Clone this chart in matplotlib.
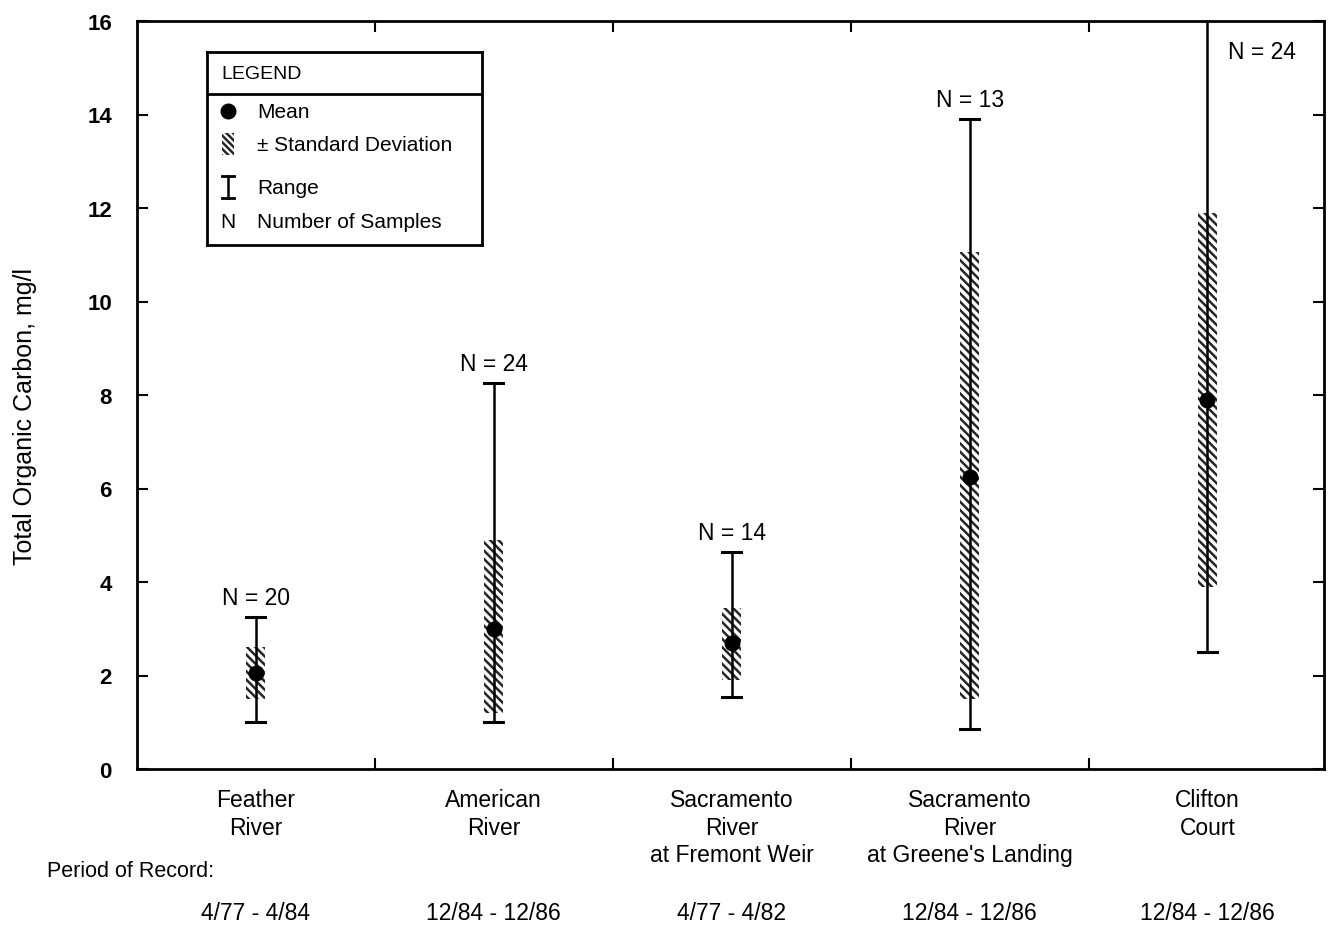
"""Total organic carbon summary by sampling station (mean, +/- SD, range)."""

import matplotlib.pyplot as plt
from matplotlib.patches import Rectangle

plt.rcParams["font.family"] = ["Liberation Sans", "DejaVu Sans"]
plt.rcParams["hatch.linewidth"] = 1.8

stations = [
    "Feather\nRiver",
    "American\nRiver",
    "Sacramento\nRiver\nat Fremont Weir",
    "Sacramento\nRiver\nat Greene's Landing",
    "Clifton\nCourt",
]
periods = ["4/77 - 4/84", "12/84 - 12/86", "4/77 - 4/82", "12/84 - 12/86", "12/84 - 12/86"]
n_samples = [20, 24, 14, 13, 24]
means = [2.05, 3.0, 2.7, 6.25, 7.9]
sd_low = [1.5, 1.2, 1.9, 1.5, 3.9]
sd_high = [2.6, 4.9, 3.45, 11.05, 11.9]
range_min = [1.0, 1.0, 1.55, 0.85, 2.5]
range_max = [3.25, 8.25, 4.65, 13.9, 16.0]

fig = plt.figure(figsize=(13.29, 9.29), dpi=100)
ax = fig.add_axes([137 / 1329, 1 - 770 / 929, 1187 / 1329, 748 / 929])

box_w = 0.08
for i in range(len(stations)):
    ax.add_patch(Rectangle((i - box_w / 2, sd_low[i]), box_w, sd_high[i] - sd_low[i],
                           facecolor="white", edgecolor="#262626", hatch="\\\\\\\\",
                           linewidth=0, zorder=2))
    ax.plot([i, i], [range_min[i], range_max[i]], color="black", lw=1.8, zorder=3)
    cap = [i - 0.04, i + 0.04]
    ax.plot(cap, [range_min[i]] * 2, color="black", lw=2.2, zorder=3)
    if range_max[i] < 16:
        ax.plot(cap, [range_max[i]] * 2, color="black", lw=2.2, zorder=3)
    ax.plot(i, means[i], "o", color="black", ms=10.5, zorder=4)
    if range_max[i] < 16:
        ax.text(i, range_max[i] + 0.17, f"N = {n_samples[i]}", ha="center", va="bottom",
                fontsize=16.5)
    else:
        # range runs off the top, so the count sits beside the line
        ax.text(i + 0.23, 15.35, f"N = {n_samples[i]}", ha="center", va="center",
                fontsize=16.5)

ax.set_xlim(-0.5, 4.49)
ax.set_ylim(0, 16)
ax.set_yticks(range(0, 17, 2))
ax.set_yticklabels([str(v) for v in range(0, 17, 2)], fontsize=16, fontweight="bold")
ax.set_xticks([0.5, 1.5, 2.5, 3.5])
ax.set_xticklabels([])
ax.tick_params(direction="in", length=8, width=1.5, top=True, right=True)
ax.tick_params(axis="y", pad=18)
for s in ax.spines.values():
    s.set_linewidth(2)
ax.set_ylabel("Total Organic Carbon, mg/l", fontsize=18)
ax.yaxis.set_label_coords(-0.0842, 0.472)

for i, name in enumerate(stations):
    ax.annotate(name, (i, 0), xytext=(0, -14), textcoords="offset points",
                ha="center", va="top", fontsize=16.5, linespacing=1.25)
    ax.annotate(periods[i], (i, 0), xytext=(0, -103), textcoords="offset points",
                ha="center", va="center", fontsize=16.5)
fig.text(47 / 1329, 1 - 872 / 929, "Period of Record:", fontsize=15.5, va="center")

# legend panel, drawn in pixel-like coordinates
lg = fig.add_axes([207 / 1329, 1 - 246 / 929, 275 / 1329, 193 / 929])
lg.set_xlim(0, 275)
lg.set_ylim(193, 0)
lg.set_xticks([])
lg.set_yticks([])
for s in lg.spines.values():
    s.set_linewidth(2)
lg.axhline(42, color="black", lw=2)
lg.text(14, 21, "LEGEND", fontsize=14, va="center")
lg.plot(21, 59, "o", color="black", ms=10.5)
lg.add_patch(Rectangle((15, 81), 12, 22, facecolor="white", edgecolor="#262626",
                       hatch="\\\\\\\\\\", linewidth=0))
lg.plot([21, 21], [124, 146], color="black", lw=1.8)
lg.plot([15, 27], [124, 124], color="black", lw=2)
lg.plot([15, 27], [146, 146], color="black", lw=2)
lg.text(21, 169, "N", fontsize=15, ha="center", va="center")
for y, label in [(59, "Mean"), (92, "\u00b1 Standard Deviation"), (135, "Range"),
                 (169, "Number of Samples")]:
    lg.text(50, y, label, fontsize=15, va="center")

fig.savefig("out.png", dpi=100)
